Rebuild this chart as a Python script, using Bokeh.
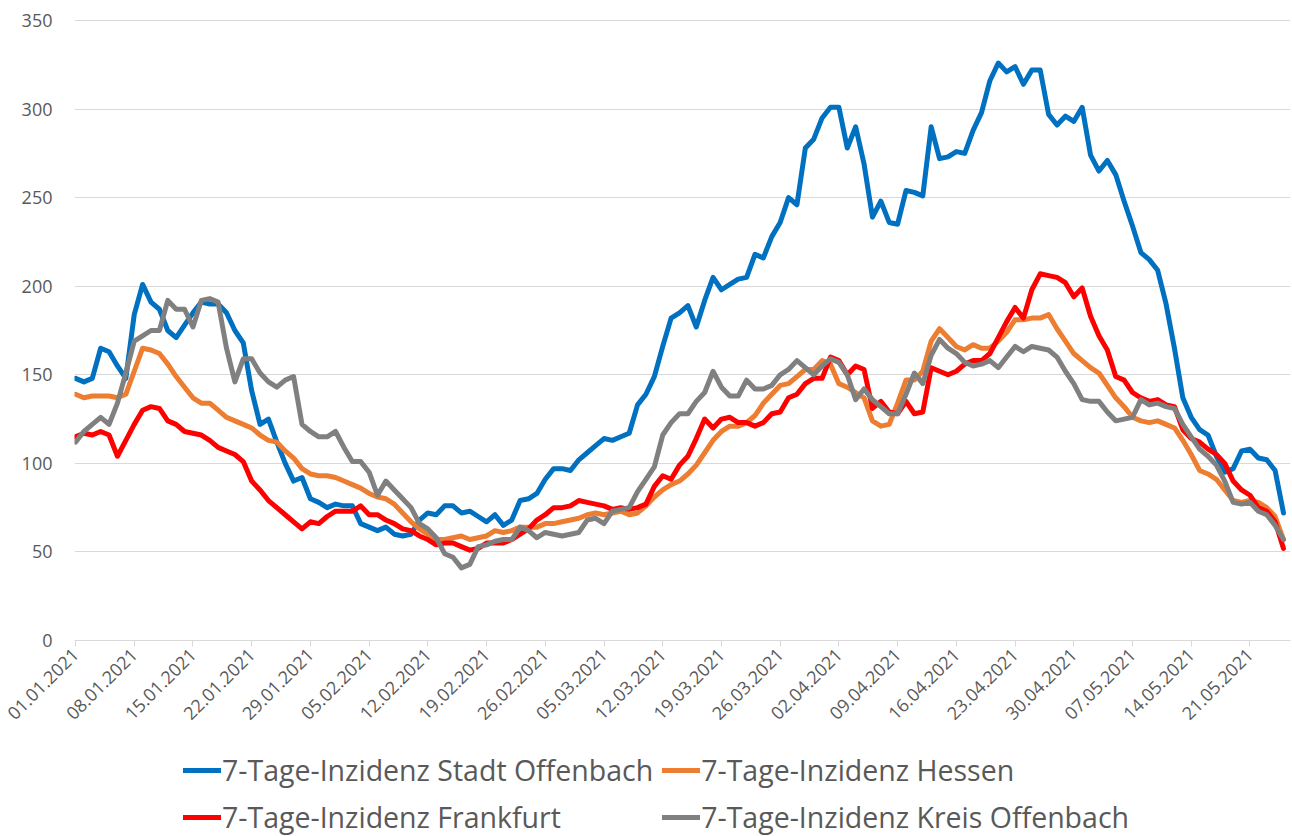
import math
import pandas as pd
from bokeh.plotting import figure
from bokeh.layouts import column
from bokeh.models import FixedTicker, Legend, LegendItem, Range1d
from bokeh.embed import file_html
from bokeh.resources import INLINE

# ---- data -------------------------------------------------------------
dates = pd.date_range("2021-01-01", periods=145, freq="D").strftime("%d.%m.%Y").tolist()

stadt_offenbach = [
    148, 146, 148, 165, 163, 155, 148, 184, 201, 191, 187, 175, 171, 178, 185, 191, 190, 190, 185, 175,
    168, 141, 122, 125, 112, 100, 90, 92, 80, 78, 75, 77, 76, 76, 66, 64, 62, 64, 60, 59,
    60, 68, 72, 71, 76, 76, 72, 73, 70, 67, 71, 65, 68, 79, 80, 83, 91, 97, 97, 96,
    102, 106, 110, 114, 113, 115, 117, 133, 139, 149, 166, 182, 185, 189, 177, 192, 205, 198, 201, 204,
    205, 218, 216, 228, 236, 250, 246, 278, 283, 295, 301, 301, 278, 290, 269, 239, 248, 236, 235, 254,
    253, 251, 290, 272, 273, 276, 275, 288, 298, 316, 326, 321, 324, 314, 322, 322, 297, 291, 296, 293,
    301, 274, 265, 271, 263, 248, 234, 219, 215, 209, 190, 165, 137, 126, 119, 116, 104, 95, 97, 107,
    108, 103, 102, 96, 72,
]

hessen = [
    139, 137, 138, 138, 138, 137, 139, 152, 165, 164, 162, 156, 149, 143, 137, 134, 134, 130, 126, 124,
    122, 120, 116, 113, 112, 107, 103, 97, 94, 93, 93, 92, 90, 88, 86, 83, 81, 80, 77, 72,
    67, 63, 60, 57, 57, 58, 59, 57, 58, 59, 62, 61, 62, 64, 64, 64, 66, 66, 67, 68,
    69, 71, 72, 71, 72, 73, 71, 72, 76, 81, 85, 88, 90, 94, 99, 106, 113, 118, 121, 121,
    123, 127, 134, 139, 144, 145, 149, 153, 153, 158, 156, 145, 143, 140, 137, 124, 121, 122, 134, 147,
    147, 152, 169, 176, 171, 166, 164, 167, 165, 165, 169, 174, 181, 181, 182, 182, 184, 176, 169, 162,
    158, 154, 151, 144, 137, 132, 126, 124, 123, 124, 122, 120, 113, 105, 96, 94, 91, 85, 79, 78,
    79, 78, 75, 70, 57,
]

frankfurt = [
    115, 117, 116, 118, 116, 104, 113, 122, 130, 132, 131, 124, 122, 118, 117, 116, 113, 109, 107, 105,
    101, 90, 85, 79, 75, 71, 67, 63, 67, 66, 70, 73, 73, 73, 76, 71, 71, 68, 66, 63,
    62, 59, 57, 54, 55, 55, 53, 51, 52, 55, 55, 55, 57, 60, 63, 68, 71, 75, 75, 76,
    79, 78, 77, 76, 74, 75, 74, 75, 77, 87, 93, 91, 99, 104, 114, 125, 120, 125, 126, 123,
    123, 121, 123, 128, 129, 137, 139, 145, 148, 148, 160, 158, 150, 155, 153, 131, 135, 129, 128, 135,
    128, 129, 154, 152, 150, 152, 156, 158, 158, 162, 171, 180, 188, 182, 198, 207, 206, 205, 202, 194,
    199, 183, 172, 164, 149, 147, 140, 137, 135, 136, 133, 132, 119, 114, 112, 108, 105, 100, 90, 85,
    82, 75, 73, 67, 52,
]

kreis_offenbach = [
    112, 118, 122, 126, 122, 134, 151, 169, 172, 175, 175, 192, 187, 187, 177, 192, 193, 191, 165, 146,
    159, 159, 151, 146, 143, 147, 149, 122, 118, 115, 115, 118, 109, 101, 101, 95, 82, 90, 85, 80,
    75, 66, 63, 58, 49, 47, 41, 43, 53, 54, 56, 57, 57, 64, 62, 58, 61, 60, 59, 60,
    61, 68, 69, 66, 73, 74, 75, 84, 91, 98, 116, 123, 128, 128, 135, 140, 152, 143, 138, 138,
    147, 142, 142, 144, 150, 153, 158, 154, 150, 155, 159, 157, 150, 136, 142, 136, 132, 128, 128, 139,
    151, 145, 161, 170, 165, 162, 157, 155, 156, 158, 154, 160, 166, 163, 166, 165, 164, 160, 152, 145,
    136, 135, 135, 129, 124, 125, 126, 136, 133, 134, 132, 131, 122, 115, 108, 104, 99, 90, 78, 77,
    78, 73, 71, 65, 57,
]

series_names = [
    "7-Tage-Inzidenz Stadt Offenbach",
    "7-Tage-Inzidenz Hessen",
    "7-Tage-Inzidenz Frankfurt",
    "7-Tage-Inzidenz Kreis Offenbach",
]
series_values = [stadt_offenbach, hessen, frankfurt, kreis_offenbach]
series_colors = ["#0070C0", "#ED7D31", "#FF0000", "#808080"]

y_ticks = [0, 50, 100, 150, 200, 250, 300, 350]
tick_days = list(range(0, len(dates), 7))
tick_labels = [dates[i] for i in tick_days]

# ---- main chart -------------------------------------------------------
day_index = list(range(len(dates)))
FONT = "Open Sans"
TEXT_COLOR = "#595959"
GRID_COLOR = "#d9d9d9"
LINE_W = 5

p = figure(
    width=1292, height=750,
    output_backend="svg", toolbar_location=None,
    x_range=Range1d(-0.119, len(dates) - 1 + 0.834),
    y_range=Range1d(0, 351.13),
    min_border_left=74, min_border_right=2, min_border_top=18, min_border_bottom=110,
)
p.outline_line_color = None
p.background_fill_color = "white"
p.border_fill_color = "white"

p.xgrid.visible = False
p.ygrid.grid_line_color = GRID_COLOR
p.ygrid.grid_line_width = 1

p.yaxis.ticker = FixedTicker(ticks=y_ticks)
p.yaxis.axis_line_color = None
p.yaxis.major_tick_line_color = None
p.yaxis.minor_tick_line_color = None
p.yaxis.major_tick_out = 0
p.yaxis.major_tick_in = 0
p.yaxis.major_label_standoff = 22
p.yaxis.major_label_text_font = FONT
p.yaxis.major_label_text_font_size = "18px"
p.yaxis.major_label_text_color = TEXT_COLOR

p.xaxis.ticker = FixedTicker(ticks=tick_days)
p.xaxis.major_label_overrides = {d: lab for d, lab in zip(tick_days, tick_labels)}
p.xaxis.major_label_orientation = math.pi / 4
p.xaxis.axis_line_color = GRID_COLOR
p.xaxis.axis_line_width = 1
p.xaxis.major_tick_line_color = GRID_COLOR
p.xaxis.major_tick_out = 6
p.xaxis.major_tick_in = 0
p.xaxis.minor_tick_line_color = None
p.xaxis.major_label_standoff = 5
p.xaxis.major_label_text_font = FONT
p.xaxis.major_label_text_font_size = "18px"
p.xaxis.major_label_text_color = TEXT_COLOR

for vals, col in zip(series_values, series_colors):
    p.line(day_index, vals, line_color=col, line_width=LINE_W,
           line_join="round", line_cap="round")

# ---- legend strip -----------------------------------------------------
# The series are drawn again here (outside the visible y-range) only so
# that the legend has real renderers to show its line swatches.
q = figure(
    width=1292, height=86,
    output_backend="svg", toolbar_location=None,
    x_range=Range1d(0, 1), y_range=Range1d(-2, -1),
    x_axis_location=None, y_axis_location=None,
    min_border=0, min_border_left=0, min_border_right=0, min_border_top=0, min_border_bottom=0,
)
q.outline_line_color = None
q.grid.visible = False
q.background_fill_color = "white"
q.border_fill_color = "white"

items = []
for name, vals, col in zip(series_names, series_values, series_colors):
    r = q.line(day_index, vals, line_color=col, line_width=LINE_W, line_cap="round")
    items.append(LegendItem(label=name, renderers=[r]))

legend = Legend(
    items=items,
    orientation="horizontal",
    ncols=2,
    location=(109, 0),
    label_text_font=FONT,
    label_text_font_size="28.5px",
    label_text_color=TEXT_COLOR,
    glyph_width=38,
    glyph_height=30,
    label_height=30,
    label_standoff=1,
    spacing=9,
    padding=0,
    margin=0,
    border_line_color=None,
    background_fill_alpha=0,
)
q.add_layout(legend, "center")

layout = column(p, q, spacing=0)
open("out.html", "w").write(file_html(layout, INLINE))
